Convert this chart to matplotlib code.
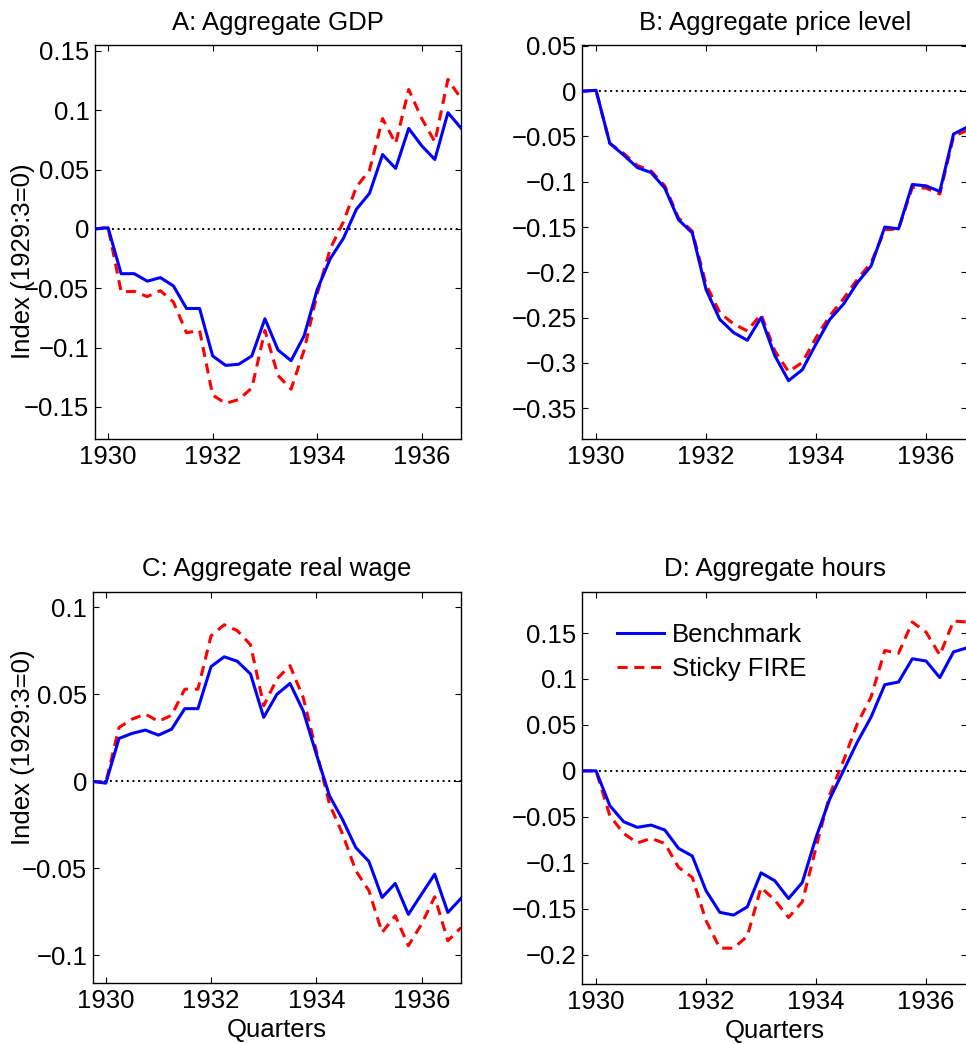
import matplotlib
matplotlib.use("Agg")
import matplotlib.pyplot as plt
from matplotlib.ticker import FuncFormatter

plt.rcParams['font.family'] = ['Liberation Sans', 'DejaVu Sans']
plt.rcParams['font.size'] = 18.5

# quarters 1929:4 .. 1936:4
quarters = [1929.75 + 0.25 * i for i in range(29)]

gdp_bench = [0, 0.001, -0.0377, -0.0377, -0.044, -0.041, -0.048, -0.067, -0.067,
             -0.107, -0.115, -0.114, -0.107, -0.0757, -0.102, -0.111, -0.09, -0.051,
             -0.025, -0.008, 0.0166, 0.030, 0.0627, 0.051, 0.0847, 0.070, 0.0585,
             0.098, 0.085]
gdp_sticky = [0, 0.0015, -0.053, -0.0526, -0.057, -0.052, -0.0616, -0.0875, -0.0855,
              -0.140, -0.147, -0.1437, -0.134, -0.0855, -0.1235, -0.135, -0.102,
              -0.0546, -0.0166, 0.006, 0.0354, 0.0495, 0.093, 0.072, 0.1175, 0.093,
              0.0734, 0.126, 0.110]

price_bench = [0, 0.001, -0.0576, -0.0704, -0.0843, -0.0898, -0.107, -0.142, -0.1565,
               -0.219, -0.252, -0.2665, -0.275, -0.25, -0.292, -0.3196, -0.3075,
               -0.279, -0.252, -0.235, -0.2115, -0.193, -0.150, -0.152, -0.103,
               -0.1045, -0.1107, -0.0473, -0.0395]
price_sticky = [0, 0.001, -0.0576, -0.0685, -0.082, -0.088, -0.1045, -0.140, -0.1547,
                -0.2133, -0.2445, -0.257, -0.2646, -0.2463, -0.2866, -0.3097, -0.2995,
                -0.272, -0.248, -0.229, -0.2078, -0.1895, -0.153, -0.152, -0.1063,
                -0.107, -0.1136, -0.050, -0.043]

wage_bench = [0, -0.001, 0.0247, 0.0276, 0.0295, 0.0266, 0.030, 0.0418, 0.0418,
              0.066, 0.0716, 0.069, 0.0617, 0.0368, 0.050, 0.0563, 0.0406, 0.0157,
              -0.0082, -0.022, -0.038, -0.046, -0.0667, -0.0586, -0.0764, -0.0648,
              -0.0533, -0.0753, -0.0672]
wage_sticky = [0, -0.0005, 0.031, 0.0358, 0.0387, 0.0345, 0.038, 0.053, 0.053,
               0.0837, 0.090, 0.0866, 0.0785, 0.0435, 0.0588, 0.0665, 0.0483, 0.0176,
               -0.013, -0.0303, -0.0513, -0.0628, -0.0868, -0.0772, -0.0944, -0.082,
               -0.0663, -0.0916, -0.084]

hours_bench = [0, 0, -0.0378, -0.0553, -0.0615, -0.059, -0.0644, -0.0844, -0.0927,
               -0.1305, -0.154, -0.157, -0.148, -0.111, -0.1196, -0.139, -0.1215,
               -0.0724, -0.0305, 0.0004, 0.0313, 0.0585, 0.0938, 0.0967, 0.122,
               0.1196, 0.1015, 0.1295, 0.134]
hours_sticky = [0, 0, -0.0487, -0.068, -0.0785, -0.0735, -0.079, -0.105, -0.116,
                -0.163, -0.193, -0.193, -0.180, -0.127, -0.1407, -0.1596, -0.1425,
                -0.0833, -0.0258, 0.0113, 0.0513, 0.0804, 0.131, 0.128, 0.162, 0.151,
                0.126, 0.163, 0.162]

titles = ['A: Aggregate GDP', 'B: Aggregate price level',
          'C: Aggregate real wage', 'D: Aggregate hours']
year_ticks = [1930, 1932, 1934, 1936]

W, H = 966, 1044
fig = plt.figure(figsize=(W / 100, H / 100), dpi=100)


def px_axes(left, top, right, bottom):
    return fig.add_axes([left / W, 1 - bottom / H, (right - left) / W, (bottom - top) / H])


panels = [
    (px_axes(95, 45, 461, 439), gdp_bench, gdp_sticky, (-0.177, 0.155),
     [-0.15, -0.1, -0.05, 0, 0.05, 0.1, 0.15]),
    (px_axes(582.3, 45, 967.3, 439), price_bench, price_sticky, (-0.384, 0.051),
     [-0.35, -0.3, -0.25, -0.2, -0.15, -0.1, -0.05, 0, 0.05]),
    (px_axes(92.7, 591.7, 461, 983.3), wage_bench, wage_sticky, (-0.116, 0.109),
     [-0.1, -0.05, 0, 0.05, 0.1]),
    (px_axes(582.3, 591.7, 967.3, 984), hours_bench, hours_sticky, (-0.232, 0.195),
     [-0.2, -0.15, -0.1, -0.05, 0, 0.05, 0.1, 0.15]),
]

fmt = FuncFormatter(lambda v, p: ('%g' % round(v, 4)).replace('-', '\u2212'))

for k, (ax, bench, sticky, ylim, yt) in enumerate(panels):
    ax.axhline(0, color='k', lw=1.4, dashes=(1, 1.9), zorder=1)
    ax.plot(quarters, bench, color='#0000ff', lw=2.2, label='Benchmark', zorder=3)
    ax.plot(quarters, sticky, color='#ff0000', lw=2.2, dashes=(3.3, 2.2),
            label='Sticky FIRE', zorder=2)
    ax.set_xlim(1929.75, 1936.75)
    ax.set_ylim(*ylim)
    ax.set_xticks(year_ticks)
    ax.set_yticks(yt)
    ax.yaxis.set_major_formatter(fmt)
    ax.tick_params(direction='in', top=True, right=True, length=4, width=0.8,
                   pad=4)
    for s in ax.spines.values():
        s.set_linewidth(1.0)
    ax.set_title(titles[k], fontsize=18.5, pad=11)

for ax in (panels[0][0], panels[2][0]):
    ax.set_ylabel('Index (1929:3=0)', va='center')
for ax in (panels[2][0], panels[3][0]):
    ax.set_xlabel('Quarters', labelpad=4)

panels[0][0].yaxis.set_label_coords((23.5 - 95) / 366, 1 - (261 - 45) / 394)
panels[2][0].yaxis.set_label_coords((23.5 - 92.7) / 368.3, 1 - (747 - 591.7) / 391.6)

panels[3][0].legend(loc='upper left', bbox_to_anchor=(0.09, 0.92), frameon=False,
                    handlelength=1.85, handletextpad=0.3, labelspacing=0.4,
                    borderpad=0, borderaxespad=0, fontsize=18.5)

fig.savefig('out.png', dpi=100)
